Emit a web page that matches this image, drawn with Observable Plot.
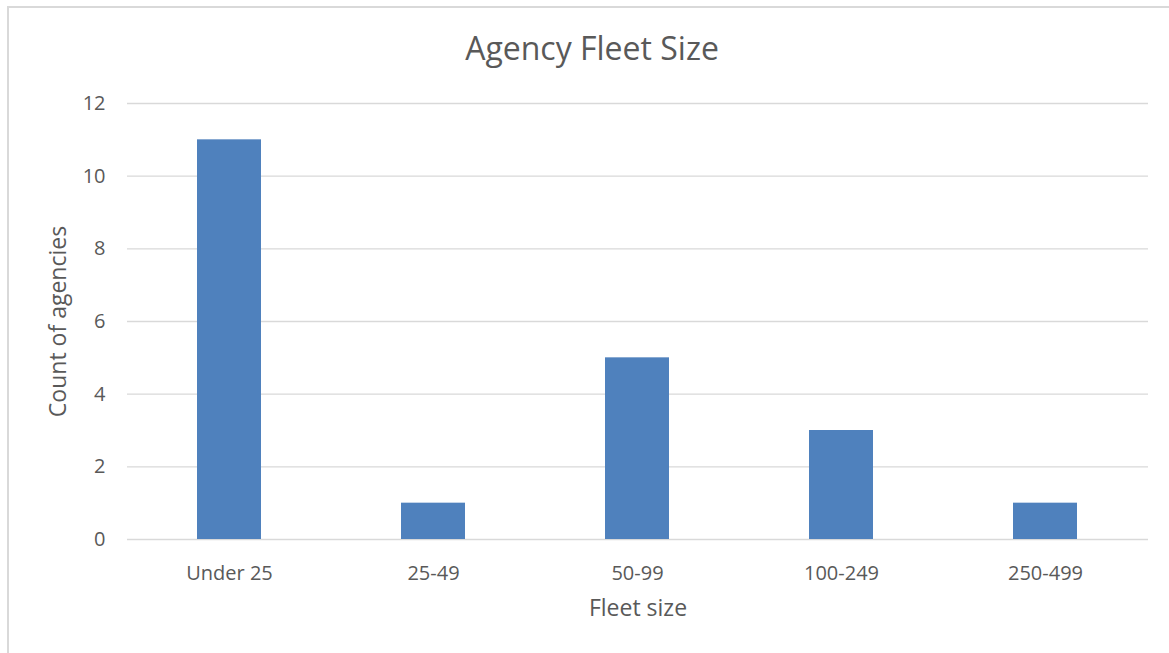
<!DOCTYPE html>
<html>
<head>
<meta charset="utf-8">
<script src="https://cdn.jsdelivr.net/npm/d3@7"></script>
<script src="https://cdn.jsdelivr.net/npm/@observablehq/plot@0.6"></script>
<style>
  html, body { margin: 0; padding: 0; background: #fff; width: 1169px; height: 653px; overflow: hidden; }
  #frame { position: absolute; left: 7px; top: 6px; width: 1180px; height: 700px; border-left: 2px solid #d9d9d9; border-top: 2px solid #d9d9d9; box-sizing: border-box; }
  #chart { position: absolute; left: 0; top: 0; }
  #title { position: absolute; left: 0; width: 1184px; top: 26px; text-align: center; font-family: "Open Sans", sans-serif; font-size: 32px; color: #595959; }
</style>
</head>
<body>
<div id="frame"></div>
<div id="chart"></div>
<div id="title">Agency Fleet Size</div>
<script>
const categories = ["Under 25", "25-49", "50-99", "100-249", "250-499"];
const counts = [11, 1, 5, 3, 1];
const yTicks = [0, 2, 4, 6, 8, 10, 12];

const data = categories.map((c, i) => ({category: c, count: counts[i]}));

const chart = Plot.plot({
  width: 1169,
  height: 653,
  marginTop: 103,
  marginBottom: 114,
  marginLeft: 127,
  marginRight: 21,
  style: {fontFamily: "Open Sans, sans-serif", fontSize: "20px", color: "#595959", background: "transparent"},
  x: {domain: categories, paddingInner: 0.686, paddingOuter: 0.343, label: null},
  y: {domain: [0, 12], ticks: yTicks, label: null},
  marks: [
    Plot.gridY(yTicks, {stroke: "#d9d9d9", strokeOpacity: 1, strokeWidth: 1.3}),
    Plot.barY(data, {x: "category", y: "count", fill: "#4f81bd"}),
    Plot.axisX({tickSize: 0, tickPadding: 26, fontSize: 20, label: null}),
    Plot.axisY(yTicks, {tickSize: 0, tickPadding: 22, fontSize: 20, label: null, tickFormat: d => String(d)}),
    Plot.text(["Fleet size"], {frameAnchor: "bottom", dy: 76, fontSize: 23, fill: "#595959", textAnchor: "middle"}),
    Plot.text(["Count of agencies"], {frameAnchor: "left", dx: -69, rotate: -90, fontSize: 23, fill: "#595959", textAnchor: "middle"})
  ]
});
document.getElementById("chart").appendChild(chart);
</script>
</body>
</html>
